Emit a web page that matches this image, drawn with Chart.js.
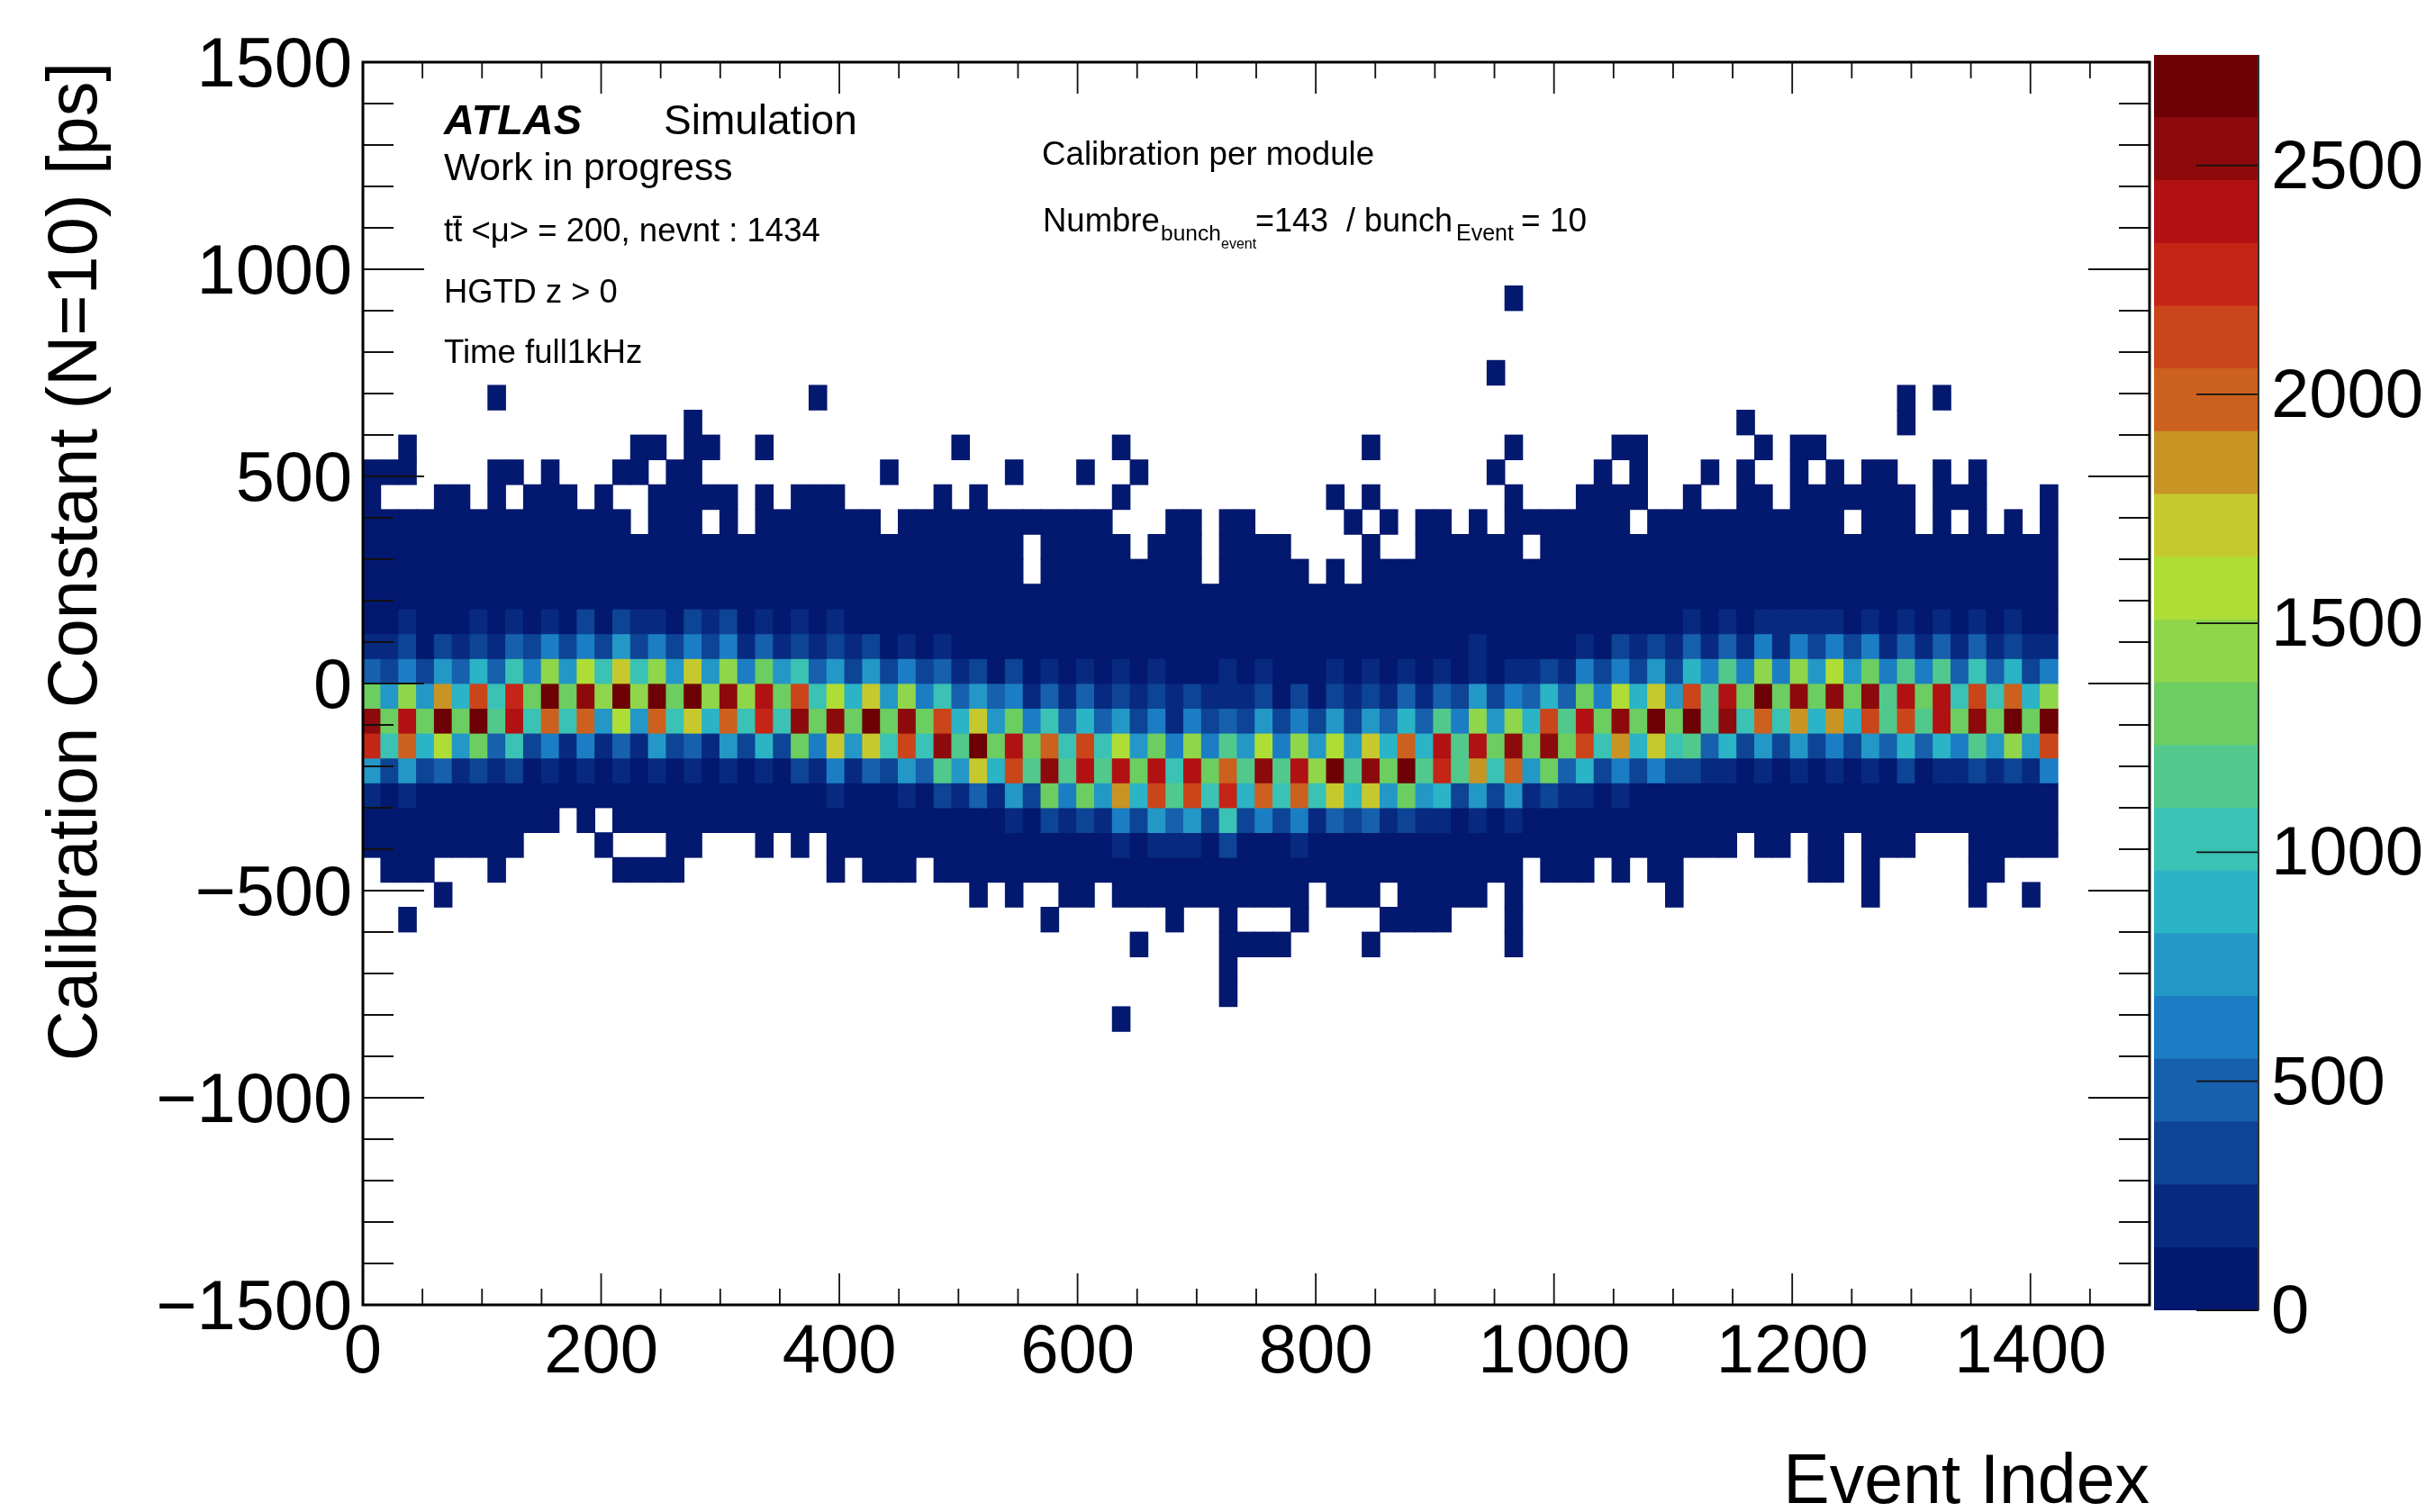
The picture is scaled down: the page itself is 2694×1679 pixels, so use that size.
<!DOCTYPE html>
<html>
<head>
<meta charset="utf-8">
<script src="https://cdn.jsdelivr.net/npm/chart.js@4"></script>
<style>
html,body{margin:0;padding:0;background:#fff;width:2694px;height:1679px;overflow:hidden}
#main{position:absolute;left:0;top:0}
#bar{position:absolute;left:2392px;top:0}
</style>
</head>
<body>
<canvas id="main" width="2694" height="1679"></canvas>
<canvas id="bar" width="302" height="1679"></canvas>
<script>
const _ = null;
// Histogram binning
const binWidthX = 14.98, binHeightY = 60, columnCount = 95;
const xMin = 0, xMax = 1500, yMin = -1500, yMax = 1500, zMax = 2741;
const zTickValues = [0, 500, 1000, 1500, 2000, 2500];

// Colour-scale band (0..19) of each cell, per event-index column, named by the lower edge of the row in ps
const bandsAt120 = [0,0,1,0,0,0,1,0,1,0, 1,0,2,0,2,1,1,0,2,1, 2,0,1,0,1,0,1,0,0,0, 0,0,0,0,0,0,0,0,0,0, 0,0,0,0,0,0,0,0,0,0, 0,0,0,0,0,0,0,0,0,0, 0,0,0,0,0,0,0,0,0,0, 0,0,0,0,1,0,1,0,1,1, 1,1,1,0,1,0,1,0,1,0, 1,0,1,0,0];
const bandsAt60 = [1,1,2,0,2,1,2,1,3,2, 4,2,4,2,5,2,4,2,4,2, 4,1,3,1,2,1,2,1,2,0, 1,0,1,0,0,0,0,0,0,0, 0,0,0,0,0,0,0,0,0,0, 0,0,0,0,0,0,0,0,0,0, 0,0,1,0,0,0,0,0,1,0, 2,1,2,1,3,1,3,1,4,1, 4,2,4,2,4,1,3,1,3,1, 3,1,2,1,1];
const bandsAt0 = [3,2,4,2,5,3,6,3,7,4, 10,5,11,7,12,7,10,5,12,5, 10,4,9,5,7,3,5,2,5,2, 4,2,3,1,2,0,2,0,1,0, 1,0,1,0,1,0,0,0,1,0, 1,0,0,0,1,0,1,0,1,0, 1,0,1,0,1,1,2,1,4,2, 4,2,5,2,6,4,8,4,10,4, 10,5,11,5,9,4,8,4,8,3, 7,3,6,2,4];
const bandsAtM60 = [9,5,10,5,13,6,15,7,16,9, 19,9,18,10,19,10,19,9,19,10, 18,10,17,9,15,7,11,6,12,5, 10,4,7,3,5,3,4,1,3,1, 3,1,2,1,2,1,2,1,1,1, 2,0,2,0,2,1,2,1,3,1, 3,2,5,2,4,3,6,3,9,4, 11,6,12,5,15,8,17,9,19,9, 18,9,18,9,18,8,17,9,17,7, 15,7,14,6,10];
const bandsAtM120 = [18,9,17,9,19,9,19,8,17,7, 14,7,14,5,11,5,14,7,12,6, 14,7,16,7,18,9,18,9,19,9, 18,9,15,6,12,5,9,4,7,3, 6,3,5,2,4,1,4,2,3,2, 5,2,4,2,5,2,5,3,6,3, 8,4,10,5,10,6,15,8,17,9, 18,9,19,9,19,8,18,7,14,7, 13,6,13,6,15,8,15,8,17,9, 18,9,19,9,19];
const bandsAtM180 = [16,7,14,6,11,5,9,3,7,2, 4,1,4,1,3,1,5,2,3,1, 5,2,6,2,9,4,12,5,12,7, 15,7,18,8,19,9,17,9,14,7, 15,7,11,5,9,4,10,4,8,5, 11,4,10,5,11,5,12,6,14,6, 17,8,17,9,18,9,18,9,15,7, 13,6,12,7,8,3,6,2,5,2, 5,2,4,2,5,3,6,3,6,4, 8,5,10,5,15];
const bandsAtM240 = [5,2,5,2,3,1,2,1,2,0, 1,0,1,0,1,0,1,0,1,0, 1,0,1,0,2,1,4,1,3,2, 5,3,8,5,12,6,15,8,18,8, 17,8,17,9,17,7,17,9,14,8, 18,8,17,10,19,8,18,9,19,8, 16,8,13,7,14,5,9,3,6,2, 4,2,4,2,2,1,1,0,1,0, 1,0,1,0,1,0,2,0,1,1, 2,1,2,1,4];
const bandsAtM300 = [1,0,1,0,0,0,0,0,0,0, 0,0,0,0,0,0,0,0,0,0, 0,0,0,0,0,0,1,0,0,0, 1,0,2,1,3,1,5,2,9,4, 9,5,13,6,15,8,15,7,16,6, 14,7,14,7,12,6,12,5,9,5, 6,2,5,2,5,1,2,1,1,0, 1,0,0,0,0,0,0,0,0,0, 0,0,0,0,0,0,0,0,0,0, 0,0,0,0,0];
const bandsAtM360 = [0,0,0,0,0,0,0,0,0,0, 0,_,0,_,0,0,0,0,0,0, 0,0,0,0,0,0,0,0,0,0, 0,0,0,0,0,0,1,0,2,1, 2,1,4,2,5,3,5,2,7,2, 4,2,4,1,3,2,3,1,2,1, 1,0,1,0,1,0,0,0,0,0, 0,0,0,0,0,0,0,0,0,0, 0,0,0,0,0,0,0,0,0,0, 0,0,0,0,0];
const bandsAtM420 = [0,0,0,0,0,0,0,0,0,_, _,_,_,0,_,_,_,0,0,_, _,_,0,_,0,_,0,0,0,0, 0,0,0,0,0,0,0,0,0,0, 0,0,1,0,1,1,1,0,2,0, 0,0,1,0,0,0,0,0,0,0, 0,0,0,0,0,0,0,0,0,0, 0,0,0,0,0,0,0,_,0,0, _,0,0,_,0,0,0,_,_,_, 0,0,0,0,0];

// Rows that are filled with the lowest band except for these empty columns
const emptyAt180 = [];
const emptyAt240 = [37,47,53,55];
const emptyAt300 = [37,43,47,52,53,54,55,57,58,65];
const emptyAt360 = [15,19,21,29,42,43,44,47,50,51,52,53,54,56,58,61,63,71,83,87,89,91,93];
const emptyAtM480 = [0,4,5,6,8,9,10,11,12,13,18,19,20,21,22,23,24,25,27,31,65,69,71,74,75,76,77,78,79,80,83,85,86,87,88,89,92,93,94];

// Sparse rows: the only filled columns (lowest band)
const filledAt900 = [64];
const filledAt720 = [63];
const filledAt660 = [7,25,86,88];
const filledAt600 = [18,77,86];
const filledAt540 = [2,15,16,18,19,22,33,42,56,64,70,71,78,80,81];
const filledAt480 = [0,1,2,7,8,10,14,15,17,18,29,36,40,43,63,69,71,75,77,80,82,84,85,88,90];
const filledAt420 = [0,4,5,7,9,10,11,13,16,17,18,19,20,22,24,25,26,32,34,42,54,56,64,68,69,70,71,74,77,78,80,81,82,83,84,85,86,88,89,90,94];
const filledAtM540 = [4,34,36,39,40,42,43,44,45,46,47,48,49,50,51,52,54,55,56,58,59,60,61,62,64,73,84,90,93];
const filledAtM600 = [2,38,45,48,52,57,58,59,60,64];
const filledAtM660 = [43,48,49,50,51,56,64];
const filledAtM720 = [48];
const filledAtM780 = [48];
const filledAtM840 = [42];

// z-axis palette, bottom to top
const palette = ['#03186f','#072a80','#0d4495','#1660ad','#1b7ec4','#2398c6','#2bb3c6','#3ac2b4','#52c98c','#6ccd60','#8fd64a','#aede36','#c6c92e','#c89424','#cc601e','#cb451a','#c52516','#b11113','#8c0a0b','#6c0004'];

const yTitle = 'Calibration Constant (N=10) [ps]';
const xTitle = 'Event Index';

const FONT = '"Liberation Sans", Arial, sans-serif';
const zStep = zMax / palette.length;
const allColumns = Array.from({length: columnCount}, (_v, i) => i);
const fromEmpty = e => allColumns.map(c => e.includes(c) ? null : 0);
const fromFilled = f => allColumns.map(c => f.includes(c) ? 0 : null);

const rowTable = [
  [900, fromFilled(filledAt900)], [720, fromFilled(filledAt720)], [660, fromFilled(filledAt660)],
  [600, fromFilled(filledAt600)], [540, fromFilled(filledAt540)], [480, fromFilled(filledAt480)],
  [420, fromFilled(filledAt420)], [360, fromEmpty(emptyAt360)], [300, fromEmpty(emptyAt300)],
  [240, fromEmpty(emptyAt240)], [180, fromEmpty(emptyAt180)],
  [120, bandsAt120], [60, bandsAt60], [0, bandsAt0], [-60, bandsAtM60], [-120, bandsAtM120],
  [-180, bandsAtM180], [-240, bandsAtM240], [-300, bandsAtM300], [-360, bandsAtM360], [-420, bandsAtM420],
  [-480, fromEmpty(emptyAtM480)], [-540, fromFilled(filledAtM540)], [-600, fromFilled(filledAtM600)],
  [-660, fromFilled(filledAtM660)], [-720, fromFilled(filledAtM720)], [-780, fromFilled(filledAtM780)],
  [-840, fromFilled(filledAtM840)]
];

const cellDatasets = rowTable.map(([low, bands]) => ({
  label: low + ' ps',
  data: bands.map((b, c) => b === null ? null : ({
    x: (c + 0.5) * binWidthX,
    y: [low, low + binHeightY],
    v: (b + 0.5) * zStep
  })).filter(Boolean),
  backgroundColor: ctx => ctx.raw ? palette[Math.floor(ctx.raw.v / zStep)] : palette[0],
  borderWidth: 0,
  inflateAmount: 0.4,
  grouped: false,
  barPercentage: 1,
  categoryPercentage: 1
}));

const insideTicks = {
  id: 'insideTicks',
  afterDatasetsDraw(chart) {
    const {ctx, chartArea: a, scales: {x, y}} = chart;
    ctx.save();
    ctx.strokeStyle = '#111';
    ctx.lineWidth = 1.8;
    ctx.beginPath();
    x.ticks.forEach(t => {
      if (t.value <= xMin || t.value >= xMax) return;
      const px = x.getPixelForValue(t.value);
      const len = t.value % 200 === 0 ? 35 : 18;
      ctx.moveTo(px, a.bottom); ctx.lineTo(px, a.bottom - len);
      ctx.moveTo(px, a.top); ctx.lineTo(px, a.top + len);
    });
    y.ticks.forEach(t => {
      if (t.value <= yMin || t.value >= yMax) return;
      const py = y.getPixelForValue(t.value);
      const len = t.value % 500 === 0 ? 68 : 34;
      ctx.moveTo(a.left, py); ctx.lineTo(a.left + len, py);
      ctx.moveTo(a.right, py); ctx.lineTo(a.right - len, py);
    });
    ctx.stroke();
    ctx.strokeStyle = '#000';
    ctx.lineWidth = 3;
    ctx.strokeRect(a.left, a.top, a.right - a.left, a.bottom - a.top);
    ctx.restore();
  }
};

const annotations = {
  id: 'annotations',
  afterDraw(chart) {
    const {ctx} = chart;
    const put = (text, x, y, size, style) => {
      ctx.font = (style ? style + ' ' : '') + size + 'px ' + FONT;
      ctx.fillText(text, x, y);
    };
    ctx.save();
    ctx.fillStyle = '#000';
    ctx.textBaseline = 'alphabetic';
    ctx.textAlign = 'left';
    put('ATLAS', 493, 149, 47, 'italic bold');
    put('Simulation', 737, 149, 46);
    put('Work in progress', 493, 200, 42.5);
    put('t\u0074\u0304 <\u03bc> = 200, nevnt : 1434', 493, 268, 36.5);
    put('HGTD z > 0', 493, 336, 36.3);
    put('Time full1kHz', 493, 403, 36.6);
    put('Calibration per module', 1157, 183, 36.7);
    put('Numbre', 1158, 257, 36.5);
    put('bunch', 1289, 267, 24.5);
    put('event', 1356, 276, 16);
    put('=143', 1394, 257, 36);
    put('/ bunch', 1495, 257, 36);
    put('Event', 1617, 267, 25);
    put('= 10', 1689, 257, 37);
    ctx.restore();
  }
};

new Chart(document.getElementById('main'), {
  type: 'bar',
  data: {datasets: cellDatasets},
  plugins: [insideTicks, annotations],
  options: {
    responsive: false,
    animation: false,
    devicePixelRatio: 1,
    layout: {padding: {left: 0, top: 69, right: 307, bottom: 0}},
    plugins: {legend: {display: false}, tooltip: {enabled: false}},
    scales: {
      x: {
        type: 'linear', min: xMin, max: xMax, offset: false,
        grid: {display: false, drawTicks: false},
        border: {display: false},
        afterFit(s) { s.height = 230; },
        ticks: {
          stepSize: 50, includeBounds: false, autoSkip: false, maxRotation: 0, padding: 8,
          color: '#000', font: {family: FONT, size: 76},
          callback: v => v % 200 === 0 ? String(v) : ''
        },
        title: {display: true, text: xTitle, align: 'end', color: '#000',
          font: {family: FONT, size: 77, lineHeight: 0.82}, padding: {top: 0, bottom: 0}}
      },
      y: {
        type: 'linear', min: yMin, max: yMax,
        grid: {display: false, drawTicks: false},
        border: {display: false},
        afterFit(s) { s.width = 403; },
        ticks: {
          stepSize: 100, includeBounds: false, autoSkip: false, padding: 12, labelOffset: 6,
          color: '#000', font: {family: FONT, size: 77.5},
          callback: v => v % 500 === 0 ? String(v).replace('-', '\u2212') : ''
        },
        title: {display: true, text: yTitle, align: 'end', color: '#000',
          font: {family: FONT, size: 77.5, lineHeight: 1.2}, padding: {top: 39, bottom: 0}}
      }
    }
  }
});

// Colour bar
const zTicksDraw = {
  id: 'zTicksDraw',
  afterDatasetsDraw(chart) {
    const {ctx, chartArea: a, scales: {y}} = chart;
    ctx.save();
    ctx.strokeStyle = '#111';
    ctx.lineWidth = 1.8;
    ctx.beginPath();
    y.ticks.forEach(t => {
      const py = y.getPixelForValue(t.value);
      ctx.moveTo(a.right, py); ctx.lineTo(a.right - 69, py);
    });
    ctx.stroke();
    ctx.strokeStyle = '#333';
    ctx.lineWidth = 2;
    ctx.beginPath();
    ctx.moveTo(a.right, a.top); ctx.lineTo(a.right, a.bottom);
    ctx.stroke();
    ctx.restore();
  }
};

new Chart(document.getElementById('bar'), {
  type: 'bar',
  data: {
    labels: ['z'],
    datasets: palette.map((color, i) => ({
      label: 'band ' + i,
      data: [[i * zStep, (i + 1) * zStep]],
      backgroundColor: color,
      borderWidth: 0,
      inflateAmount: 0.4,
      grouped: false,
      barPercentage: 1,
      categoryPercentage: 1
    }))
  },
  plugins: [zTicksDraw],
  options: {
    responsive: false,
    animation: false,
    devicePixelRatio: 1,
    layout: {padding: {left: 0, top: 61, right: 0, bottom: 224}},
    plugins: {legend: {display: false}, tooltip: {enabled: false}},
    scales: {
      x: {display: false},
      y: {
        position: 'right', type: 'linear', min: 0, max: zMax,
        grid: {display: false, drawTicks: false},
        border: {display: false},
        afterFit(s) { s.width = 186; },
        afterBuildTicks(s) { s.ticks = zTickValues.map(v => ({value: v})); },
        ticks: {autoSkip: false, padding: 14, labelOffset: 4,
          color: '#000', font: {family: FONT, size: 76}, callback: v => String(v)}
      }
    }
  }
});
</script>
</body>
</html>
